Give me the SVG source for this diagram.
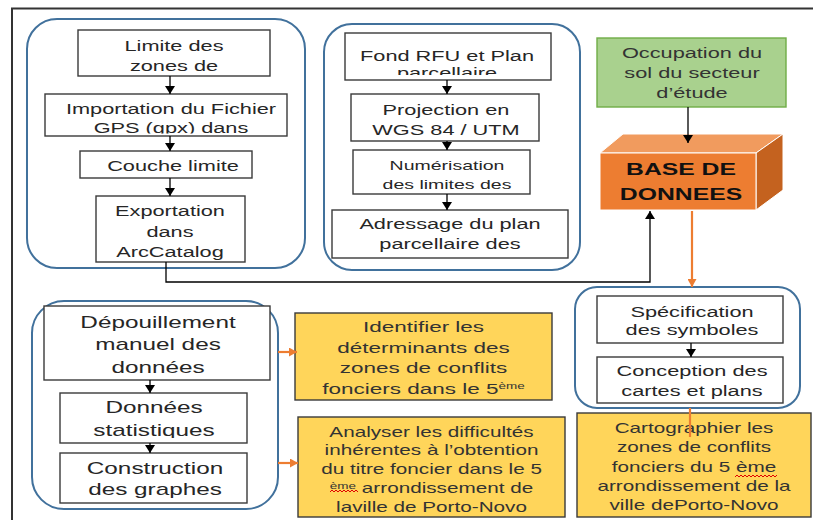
<svg xmlns="http://www.w3.org/2000/svg" width="813" height="520" viewBox="0 0 813 520">
<style>
.t{font-family:"Liberation Sans",Arial,sans-serif;font-size:14.5px;fill:#262626;text-anchor:middle}
.s13{font-size:13px}
.s16{font-size:16.2px}
.s15{font-size:15px}
.s14{font-size:13.8px}
.b{font-weight:bold;font-size:16.5px;fill:#111}
.g{fill:#333}
.sup{font-size:9px}
.box{fill:#fff;stroke:#3a3a3a;stroke-width:1.4}
.panel{fill:none;stroke:#41719C;stroke-width:2}
.yel{fill:#FFD55A;stroke:#3a3a3a;stroke-width:1.4}
.ln{fill:none;stroke:#000;stroke-width:1.3}
.or{fill:none;stroke:#ED7D31;stroke-width:2.2}
.sq{fill:none;stroke:#E00000;stroke-width:1}
</style>
<defs>
<marker id="ah" markerWidth="8" markerHeight="10" refX="8" refY="5" orient="auto" markerUnits="userSpaceOnUse"><path d="M0,0 L8,5 L0,10 z" fill="#000"/></marker>
<marker id="oh" markerWidth="8" markerHeight="9" refX="8" refY="4.5" orient="auto" markerUnits="userSpaceOnUse"><path d="M0,0 L8,4.5 L0,9 z" fill="#ED7D31"/></marker>
<clipPath id="c1"><rect x="78" y="30" width="192" height="46"/></clipPath>
<clipPath id="c2"><rect x="45" y="94" width="242" height="39.5"/></clipPath>
<clipPath id="c4"><rect x="96" y="196" width="149" height="65"/></clipPath>
<clipPath id="c5"><rect x="345" y="33" width="206" height="42"/></clipPath>
<clipPath id="c12"><rect x="60" y="393" width="187" height="45"/></clipPath>
</defs>

<path d="M12,520 V8.5 H813" fill="none" stroke="#333" stroke-width="2"/>

<g id="panels">
<rect class="panel" x="27" y="19" width="278" height="249" rx="30"/>
<rect class="panel" x="324" y="24" width="256" height="246" rx="28"/>
<rect class="panel" x="32" y="301" width="246" height="208" rx="32"/>
<rect class="panel" x="575" y="287" width="225" height="121" rx="22"/>
</g>

<g id="n1"><rect class="box" x="78" y="30" width="192" height="46"/>
<g clip-path="url(#c1)"><text class="t" transform="translate(174 0) scale(1.5 1)"><tspan x="0" y="51.5">Limite des</tspan><tspan x="0" y="71.5">zones de</tspan></text></g></g>

<g id="n2"><rect class="box" x="45" y="94" width="242" height="42"/>
<g clip-path="url(#c2)"><text class="t" transform="translate(171 0) scale(1.5 1)"><tspan x="0" y="114">Importation du Fichier</tspan><tspan x="0" y="133">GPS (gpx) dans</tspan></text></g></g>

<g id="n3"><rect class="box" x="80" y="151" width="172" height="27"/>
<text class="t" transform="translate(173 0) scale(1.5 1)"><tspan x="0" y="171.5">Couche limite</tspan></text></g>

<g id="n4"><rect class="box" x="96" y="196" width="149" height="66"/>
<g clip-path="url(#c4)"><text class="t" transform="translate(170 0) scale(1.5 1)"><tspan x="0" y="216.5">Exportation</tspan><tspan x="0" y="237">dans</tspan><tspan x="0" y="257">ArcCatalog</tspan></text></g></g>

<g id="n5"><rect class="box" x="345" y="33" width="206" height="47"/>
<g clip-path="url(#c5)"><text class="t" transform="translate(447 0) scale(1.5 1)"><tspan x="0" y="61.5">Fond RFU et Plan</tspan><tspan x="0" y="78.5">parcellaire</tspan></text></g></g>

<g id="n6"><rect class="box" x="351" y="94" width="188" height="47"/>
<text class="t" transform="translate(446 0) scale(1.5 1)"><tspan x="0" y="115">Projection en</tspan><tspan x="0" y="135">WGS 84 / UTM</tspan></text></g>

<g id="n7"><rect class="box" x="353" y="150" width="177" height="44"/>
<text class="t s13" transform="translate(447 0) scale(1.5 1)"><tspan x="0" y="170">Numérisation</tspan><tspan x="0" y="189">des limites des</tspan></text></g>

<g id="n8"><rect class="box" x="332" y="210" width="236" height="48"/>
<text class="t" transform="translate(450 0) scale(1.5 1)"><tspan x="0" y="229">Adressage du plan</tspan><tspan x="0" y="249">parcellaire des</tspan></text></g>

<g id="n9"><rect x="597" y="38" width="189" height="69" fill="#A9D18E" stroke="#70AD47" stroke-width="1.4"/>
<text class="t g" transform="translate(692 0) scale(1.5 1)"><tspan x="0" y="58.5">Occupation du</tspan><tspan x="0" y="78.5">sol du secteur</tspan><tspan x="0" y="98.5">d’étude</tspan></text></g>

<g id="n10">
<polygon points="600,153 623,134 783,134 756,153" fill="#F19B5E" stroke="#fff" stroke-width="1"/>
<polygon points="756,153 783,134 783,190 756,210" fill="#C4621F" stroke="#fff" stroke-width="1"/>
<rect x="600" y="153" width="156" height="57" fill="#ED7D31" stroke="#fff" stroke-width="1"/>
<text class="t b" transform="translate(681 0) scale(1.5 1)"><tspan x="0" y="175">BASE DE</tspan><tspan x="0" y="200">DONNEES</tspan></text></g>

<g id="n11"><rect class="box" x="44" y="306" width="226" height="74"/>
<text class="t s16" transform="translate(158 0) scale(1.5 1)"><tspan x="0" y="328">Dépouillement</tspan><tspan x="0" y="350">manuel des</tspan><tspan x="0" y="373">données</tspan></text></g>

<g id="n12"><rect class="box" x="60" y="393" width="187" height="50"/>
<g clip-path="url(#c12)"><text class="t s16" transform="translate(154 0) scale(1.5 1)"><tspan x="0" y="413">Données</tspan><tspan x="0" y="436">statistiques</tspan></text></g></g>

<g id="n13"><rect class="box" x="60" y="453" width="187" height="50"/>
<text class="t s16" transform="translate(155 0) scale(1.5 1)"><tspan x="0" y="474">Construction</tspan><tspan x="0" y="495">des graphes</tspan></text></g>

<g id="n14"><rect class="yel" x="295" y="313" width="257" height="87"/>
<text class="t s15 g" transform="translate(423.5 0) scale(1.5 1)"><tspan x="0" y="332">Identifier les</tspan><tspan x="0" y="353">déterminants des</tspan><tspan x="0" y="373">zones de conflits</tspan><tspan x="0" y="394">fonciers dans le 5<tspan class="sup" dy="-5">ème</tspan></tspan></text></g>

<g id="n15"><rect class="yel" x="298" y="417" width="267" height="100"/>
<text class="t s14 g" transform="translate(431.5 0) scale(1.5 1)"><tspan x="0" y="437">Analyser les difficultés</tspan><tspan x="0" y="455">inhérentes à l’obtention</tspan><tspan x="0" y="474">du titre foncier dans le 5</tspan><tspan x="0" y="493"><tspan class="sup" dy="-4">ème</tspan><tspan dy="4"> arrondissement de</tspan></tspan><tspan x="0" y="512">laville de Porto-Novo</tspan></text>
<polyline class="sq" points="330,492 332,490 334,492 336,490 338,492 340,490 342,492 344,490 346,492 348,490 350,492 352,490 354,492 356,490 358,492"/></g>

<g id="n16"><rect class="box" x="597" y="296" width="186" height="47"/>
<text class="t" transform="translate(692 0) scale(1.5 1)"><tspan x="0" y="317">Spécification</tspan><tspan x="0" y="335.5">des symboles</tspan></text></g>

<g id="n17"><rect class="box" x="597" y="357" width="186" height="46"/>
<text class="t" transform="translate(692 0) scale(1.5 1)"><tspan x="0" y="376.5">Conception des</tspan><tspan x="0" y="396">cartes et plans</tspan></text></g>

<g id="n18"><rect class="yel" x="577" y="413" width="234" height="104"/>
<text class="t s14 g" transform="translate(694 0) scale(1.5 1)"><tspan x="0" y="433.5">Cartographier les</tspan><tspan x="0" y="452.5">zones de conflits</tspan><tspan x="0" y="472">fonciers du 5 ème</tspan><tspan x="0" y="491">arrondissement de la</tspan><tspan x="0" y="510">ville dePorto-Novo</tspan></text>
<polyline class="sq" points="735,477 737,475 739,477 741,475 743,477 745,475 747,477 749,475 751,477 753,475 755,477 757,475 759,477 761,475 763,477 765,475 767,477 769,475 771,477 773,475 775,477 777,475"/></g>

<g id="connectors">
<line class="ln" x1="170" y1="76" x2="170" y2="94" marker-end="url(#ah)"/>
<line class="ln" x1="170" y1="136" x2="170" y2="151" marker-end="url(#ah)"/>
<line class="ln" x1="170" y1="178" x2="170" y2="196" marker-end="url(#ah)"/>
<path class="ln" d="M166,262 V282 H650 V211" marker-end="url(#ah)"/>
<line class="ln" x1="447" y1="80" x2="447" y2="94" marker-end="url(#ah)"/>
<line class="ln" x1="447" y1="141" x2="447" y2="150" marker-end="url(#ah)"/>
<line class="ln" x1="447" y1="194" x2="447" y2="210" marker-end="url(#ah)"/>
<line class="ln" x1="688" y1="107" x2="688" y2="143" marker-end="url(#ah)"/>
<line class="ln" x1="150" y1="380" x2="150" y2="393" marker-end="url(#ah)"/>
<line class="ln" x1="150" y1="443" x2="150" y2="453" marker-end="url(#ah)"/>
<line class="ln" x1="691" y1="343" x2="691" y2="357" marker-end="url(#ah)"/>
<line class="or" x1="692" y1="211" x2="692" y2="287" marker-end="url(#oh)"/>
<line class="or" x1="278" y1="352" x2="297" y2="352" marker-end="url(#oh)"/>
<line class="or" x1="278" y1="463" x2="298" y2="463" marker-end="url(#oh)"/>
<line class="or" x1="690" y1="408" x2="690" y2="437"/>
</g>
</svg>
